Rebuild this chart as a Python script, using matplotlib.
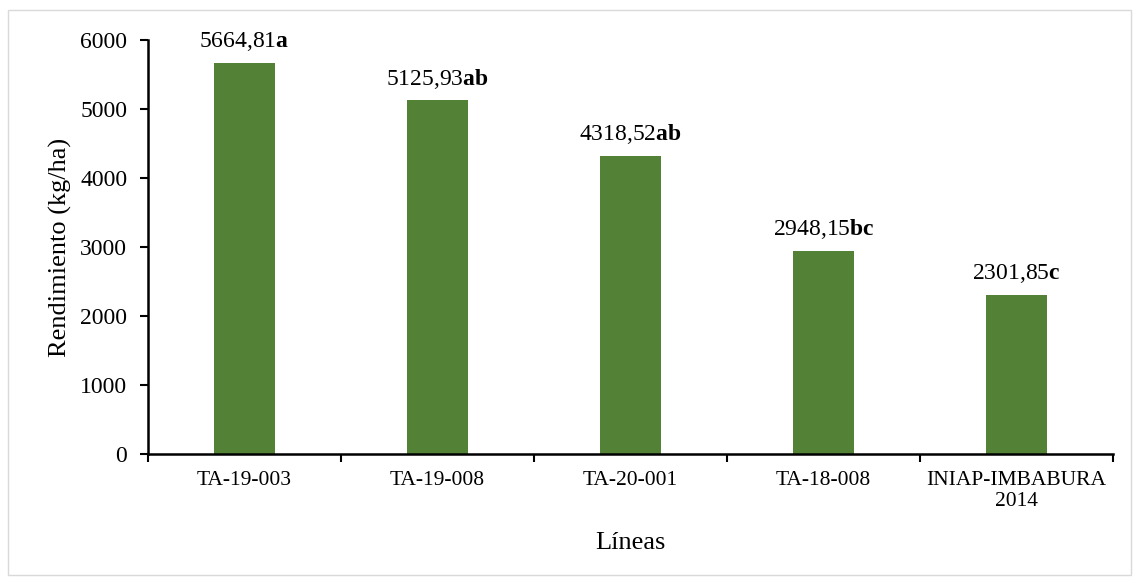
import matplotlib
matplotlib.use("Agg")
from matplotlib import pyplot as plt
from matplotlib.patches import Rectangle

# datos
lineas = ["TA-19-003", "TA-19-008", "TA-20-001", "TA-18-008", "INIAP-IMBABURA\n2014"]
rendimiento = [5664.81, 5125.93, 4318.52, 2948.15, 2301.85]
etiquetas = ["5664,81", "5125,93", "4318,52", "2948,15", "2301,85"]
letras = ["a", "ab", "ab", "bc", "c"]

plt.rcParams["font.family"] = ["Liberation Serif", "DejaVu Serif"]
plt.rcParams["mathtext.fontset"] = "custom"
plt.rcParams["mathtext.rm"] = "Liberation Serif"
plt.rcParams["mathtext.bf"] = "Liberation Serif:bold"

fig = plt.figure(figsize=(11.35, 5.79), dpi=100)
ax = fig.add_axes([148 / 1135, 1 - 454 / 579, (1113 - 148) / 1135, (454 - 40) / 579])

x = range(len(lineas))
ax.bar(x, rendimiento, width=0.32, color="#538135")

for i, v in enumerate(rendimiento):
    ax.annotate(etiquetas[i] + r"$\mathbf{" + letras[i] + "}$", (i, v),
                xytext=(0, 7), textcoords="offset points",
                ha="center", va="bottom", fontsize=17)

ax.set_xlim(-0.5, len(lineas) - 0.5)
ax.set_ylim(0, 6000)
ax.set_yticks(range(0, 6001, 1000))
ax.tick_params(axis="y", labelsize=17, direction="out", length=5.5, width=1.5, pad=9.5)

ax.set_xticks(list(x))
ax.set_xticklabels(lineas, fontsize=15.5, linespacing=1.15)
ax.tick_params(axis="x", length=0, pad=12)
ax.set_xticks([i - 0.5 for i in range(len(lineas) + 1)], minor=True)
ax.tick_params(axis="x", which="minor", direction="out", length=5.5, width=1.5)

for s in ["top", "right"]:
    ax.spines[s].set_visible(False)
for s in ["left", "bottom"]:
    ax.spines[s].set_linewidth(1.8)

ax.set_ylabel("Rendimiento (kg/ha)", fontsize=19, labelpad=6)
ax.set_xlabel("Líneas", fontsize=19, labelpad=15)

# marco gris de la figura
fig.patches.append(Rectangle((8 / 1135, 4 / 579), 1 - 12 / 1135, 1 - 14 / 579,
                             transform=fig.transFigure, fill=False,
                             edgecolor="#d9d9d9", linewidth=1))

plt.savefig("out.png", dpi=100)
plt.close()
